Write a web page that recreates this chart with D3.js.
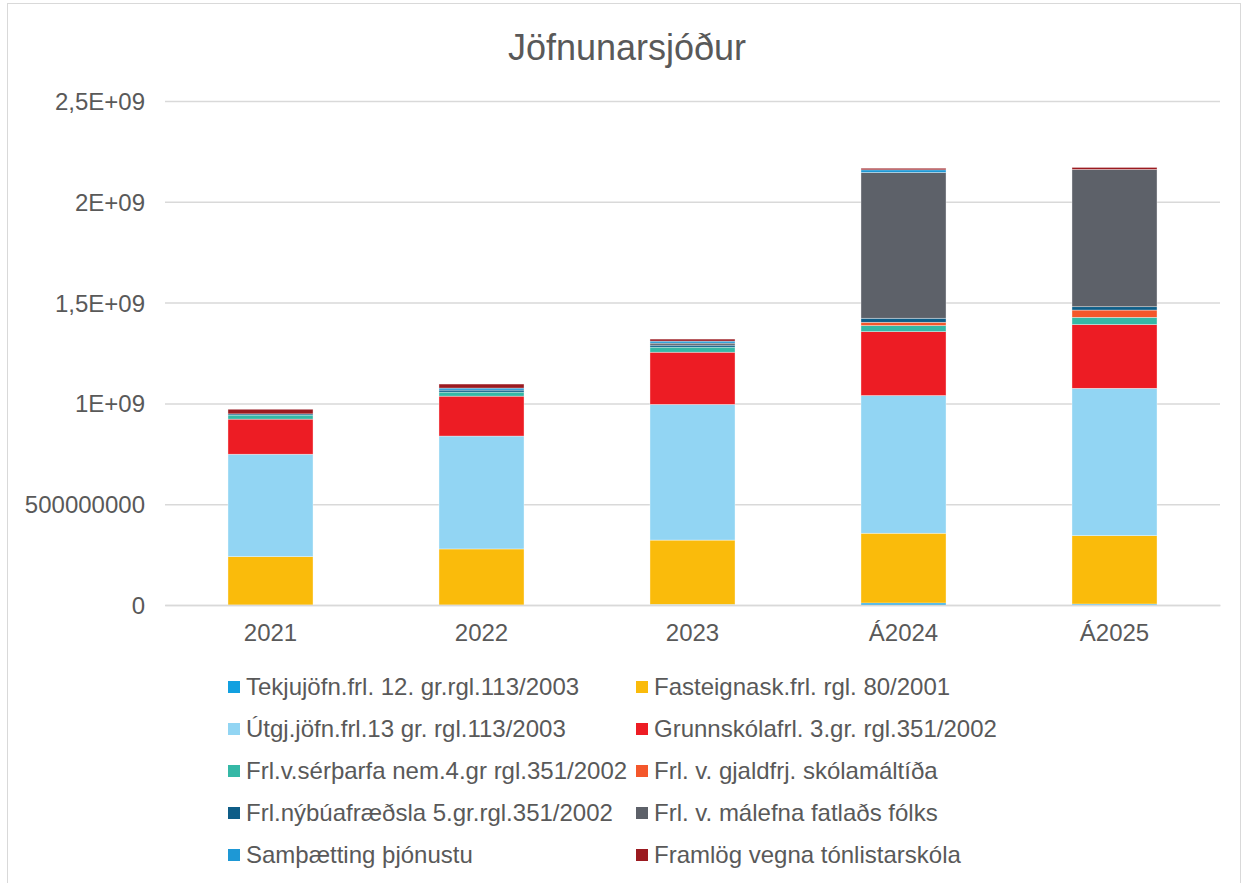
<!DOCTYPE html>
<html>
<head>
<meta charset="utf-8">
<script src="https://cdn.jsdelivr.net/npm/d3@7"></script>
<style>
  html, body { margin: 0; padding: 0; background: #fff; }
  svg { display: block; }
  text { font-family: "Liberation Sans", Arial, sans-serif; fill: #595959; }
</style>
</head>
<body>
<svg id="chart" width="1247" height="883"></svg>
<script>
// ---- data ----
const categories = ["2021", "2022", "2023", "Á2024", "Á2025"];
const seriesNames = [
  "Tekjujöfn.frl. 12. gr.rgl.113/2003",
  "Fasteignask.frl. rgl. 80/2001",
  "Útgj.jöfn.frl.13 gr. rgl.113/2003",
  "Grunnskólafrl. 3.gr. rgl.351/2002",
  "Frl.v.sérþarfa nem.4.gr rgl.351/2002",
  "Frl. v. gjaldfrj. skólamáltíða",
  "Frl.nýbúafræðsla 5.gr.rgl.351/2002",
  "Frl. v. málefna fatlaðs fólks",
  "Samþætting þjónustu",
  "Framlög vegna tónlistarskóla"
];
const seriesColors = ["#12a0e0", "#fabb0b", "#92d5f3", "#ed1c24", "#35b8a6",
                      "#f4572b", "#0e5d87", "#5d6169", "#1e98d5", "#9b1a20"];
const tekjujofn     = [0,         0,         3e6,       1.0e7,     5e6];
const fasteign      = [2.40e8,    2.78e8,    3.19e8,    3.46e8,    3.39e8];
const utgjofn       = [5.08e8,    5.60e8,    6.73e8,    6.83e8,    7.31e8];
const grunnskola    = [1.74e8,    1.98e8,    2.59e8,    3.17e8,    3.16e8];
const serthorf      = [2.0e7,     2.0e7,     2.5e7,     3.0e7,     3.6e7];
const skolamaltidir = [0,         0,         0,         1.65e7,    3.6e7];
const nybuar        = [6e6,       1.0e7,     1.0e7,     2.0e7,     1.65e7];
const fatladir      = [0,         0,         1.0e7,     7.23e8,    6.81e8];
const samthaetting  = [0,         1.0e7,     1.0e7,     1.3e7,     0];
const tonlist       = [2.3e7,     2.0e7,     1.0e7,     8e6,       1.0e7];
const seriesValues = [tekjujofn, fasteign, utgjofn, grunnskola, serthorf,
                      skolamaltidir, nybuar, fatladir, samthaetting, tonlist];
const yTicks = [0, 5e8, 1e9, 1.5e9, 2e9, 2.5e9];
const yTickLabels = ["0", "500000000", "1E+09", "1,5E+09", "2E+09", "2,5E+09"];
const title = "Jöfnunarsjóður";

// ---- layout ----
const svg = d3.select("#chart");
const W = 1247, H = 883;
const plot = { left: 165, right: 1220, top: 101, bottom: 605 };

svg.append("rect")
  .attr("x", 7.5).attr("y", 3.5).attr("width", 1233).attr("height", 900)
  .attr("fill", "#fff").attr("stroke", "#d9d9d9").attr("stroke-width", 1);

svg.append("text")
  .attr("x", 627).attr("y", 60)
  .attr("text-anchor", "middle")
  .attr("font-size", 36)
  .text(title);

const x = d3.scaleBand().domain(categories).range([plot.left, plot.right]).padding(0);
const y = d3.scaleLinear().domain([0, 2.5e9]).range([plot.bottom, plot.top]);
const barW = x.step() * 0.403;

// gridlines
const yAxis = d3.axisLeft(y).tickValues(yTicks)
  .tickFormat((d, i) => yTickLabels[i])
  .tickSize(-(plot.right - plot.left)).tickPadding(20);
const gy = svg.append("g").attr("transform", `translate(${plot.left},0)`).call(yAxis);
gy.select(".domain").remove();
gy.selectAll(".tick line").attr("stroke", "#d9d9d9").attr("stroke-width", 1.5);
gy.selectAll(".tick text").attr("font-size", 24).attr("fill", "#595959")
  .attr("font-family", '"Liberation Sans", Arial, sans-serif').attr("dy", "0.35em");

// stacked bars
const table = categories.map((c, i) => {
  const row = { cat: c };
  seriesNames.forEach((s, k) => row[s] = seriesValues[k][i]);
  return row;
});
const stack = d3.stack().keys(seriesNames)(table);
const gBars = svg.append("g");
stack.forEach((layer, k) => {
  gBars.selectAll(null).data(layer).enter().append("rect")
    .attr("x", d => x(d.data.cat) + (x.step() - barW) / 2)
    .attr("width", barW)
    .attr("y", d => y(d[1]))
    .attr("height", d => Math.max(0, y(d[0]) - y(d[1])))
    .attr("fill", seriesColors[k])
    .attr("stroke", "#ffffff").attr("stroke-width", 0.6).attr("stroke-opacity", 0.6);
});

// x axis
const xAxis = d3.axisBottom(x).tickSize(0).tickPadding(36);
const gx = svg.append("g").attr("transform", `translate(0,${plot.bottom})`).call(xAxis);
gx.select(".domain").attr("stroke", "#d9d9d9").attr("stroke-width", 1.5);
gx.selectAll(".tick text").attr("font-size", 24).attr("fill", "#595959")
  .attr("font-family", '"Liberation Sans", Arial, sans-serif').attr("dy", "0");

// legend
const legend = svg.append("g");
const colX = [228, 636];
const rowY0 = 687, rowStep = 42;
seriesNames.forEach((s, k) => {
  const col = k % 2, row = Math.floor(k / 2);
  const gx0 = colX[col], gy0 = rowY0 + row * rowStep;
  legend.append("rect").attr("x", gx0).attr("y", gy0 - 6).attr("width", 12).attr("height", 12)
    .attr("fill", seriesColors[k]);
  legend.append("text").attr("x", gx0 + 18).attr("y", gy0).attr("dy", "0.35em")
    .attr("font-size", 24).text(s);
});
</script>
</body>
</html>
